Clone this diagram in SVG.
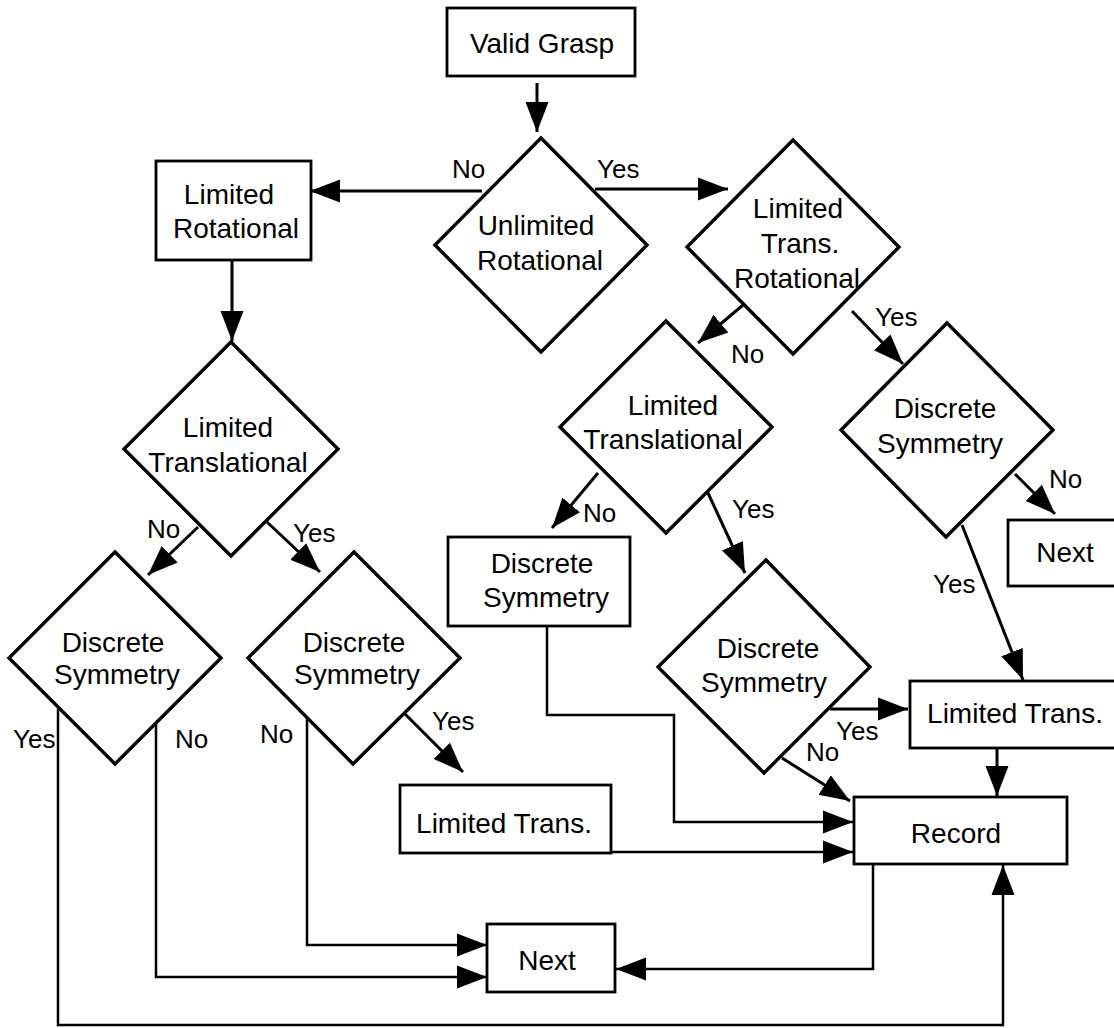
<svg xmlns="http://www.w3.org/2000/svg" width="1114" height="1028" viewBox="0 0 1114 1028">
<style>
  .box{fill:#fff;stroke:#000;stroke-width:2.8}
  .dia{fill:#fff;stroke:#000;stroke-width:3.4;stroke-linejoin:miter}
  .t{font-family:"Liberation Sans",Arial,sans-serif;font-size:28px;fill:#000;text-anchor:middle}
  .l{font-family:"Liberation Sans",Arial,sans-serif;font-size:26px;fill:#000}
  .c{fill:none;stroke:#000;stroke-width:3;marker-end:url(#ah)}
  .cl{fill:none;stroke:#000;stroke-width:2.5;marker-end:url(#ah)}
</style>
<defs>
  <marker id="ah" markerUnits="userSpaceOnUse" markerWidth="32" markerHeight="26" viewBox="0 -13 32 26" refX="30" refY="0" orient="auto">
    <path d="M0,-11.5 L30,0 L0,11.5 z" fill="#000"/>
  </marker>
</defs>
<rect width="1114" height="1028" fill="#fff"/>

<g id="connectors">
  <path class="c" d="M537,83 L537,132"/>
  <path class="c" d="M482,191 L310,191"/>
  <path class="c" d="M595,189 L728,189"/>
  <path class="c" d="M232,260 L232,341"/>
  <path class="c" d="M198,527 L148,575"/>
  <path class="c" d="M267,522 L320,572"/>
  <path class="cl" d="M58,709 L58,1025 L1003,1025 L1003,865"/>
  <path class="cl" d="M156,723 L156,977 L487,977"/>
  <path class="cl" d="M307,718 L307,945 L487,945"/>
  <path class="c" d="M405,714 L463,772"/>
  <path class="cl" d="M611,852 L853,852"/>
  <path class="cl" d="M547,626 L547,715 L674,715 L674,822 L853,822"/>
  <path class="c" d="M743,305 L698,343"/>
  <path class="c" d="M852,311 L903,364"/>
  <path class="c" d="M598,473 L552,528"/>
  <path class="c" d="M708,493 L745,573"/>
  <path class="c" d="M830,709 L908,709"/>
  <path class="c" d="M782,758 L850,801"/>
  <path class="c" d="M1015,474 L1055,514"/>
  <path class="c" d="M962,525 L1023,680"/>
  <path class="c" d="M997,748 L997,796"/>
  <path class="cl" d="M873,864 L873,969 L616,969"/>
</g>

<g id="labels">
  <text class="l" x="452" y="178">No</text>
  <text class="l" x="597" y="178">Yes</text>
  <text class="l" x="731" y="363">No</text>
  <text class="l" x="875" y="326">Yes</text>
  <text class="l" x="147" y="538">No</text>
  <text class="l" x="293" y="542">Yes</text>
  <text class="l" x="583" y="522">No</text>
  <text class="l" x="732" y="518">Yes</text>
  <text class="l" x="1049" y="488">No</text>
  <text class="l" x="933" y="593">Yes</text>
  <text class="l" x="13" y="748">Yes</text>
  <text class="l" x="175" y="748">No</text>
  <text class="l" x="260" y="743">No</text>
  <text class="l" x="432" y="730">Yes</text>
  <text class="l" x="836" y="740">Yes</text>
  <text class="l" x="806" y="761">No</text>
</g>

<g id="valid-grasp">
  <rect class="box" x="447" y="8" width="188" height="68"/>
  <text class="t" x="542" y="53">Valid Grasp</text>
</g>
<g id="unlimited-rotational">
  <polygon class="dia" points="541,138 647,245 541,352 435,245"/>
  <text class="t" x="536" y="235">Unlimited</text>
  <text class="t" x="540" y="270">Rotational</text>
</g>
<g id="limited-rotational">
  <rect class="box" x="156" y="161" width="155" height="99"/>
  <text class="t" x="229" y="204">Limited</text>
  <text class="t" x="236" y="238">Rotational</text>
</g>
<g id="limited-trans-rotational">
  <polygon class="dia" points="793,140 899,247 793,354 687,247"/>
  <text class="t" x="798" y="218">Limited</text>
  <text class="t" x="800" y="253">Trans.</text>
  <text class="t" x="797" y="288">Rotational</text>
</g>
<g id="limited-translational-left">
  <polygon class="dia" points="231,342 338,449 231,556 124,449"/>
  <text class="t" x="228" y="437">Limited</text>
  <text class="t" x="228" y="472">Translational</text>
</g>
<g id="limited-translational-right">
  <polygon class="dia" points="666,321 772,427 666,533 560,427"/>
  <text class="t" x="673" y="415">Limited</text>
  <text class="t" x="663" y="449">Translational</text>
</g>
<g id="discrete-symmetry-right">
  <polygon class="dia" points="947,323 1053,430 946,537 841,430"/>
  <text class="t" x="945" y="418">Discrete</text>
  <text class="t" x="940" y="453">Symmetry</text>
</g>
<g id="next-top">
  <rect class="box" x="1008" y="520" width="114" height="66"/>
  <text class="t" x="1065" y="562">Next</text>
</g>
<g id="discrete-symmetry-box">
  <rect class="box" x="448" y="537" width="182" height="89"/>
  <text class="t" x="542" y="573">Discrete</text>
  <text class="t" x="546" y="607">Symmetry</text>
</g>
<g id="discrete-symmetry-left">
  <polygon class="dia" points="115,552 221,658 115,764 9,658"/>
  <text class="t" x="113" y="652">Discrete</text>
  <text class="t" x="117" y="684">Symmetry</text>
</g>
<g id="discrete-symmetry-midleft">
  <polygon class="dia" points="354,552 460,658 353,764 248,658"/>
  <text class="t" x="354" y="652">Discrete</text>
  <text class="t" x="357" y="684">Symmetry</text>
</g>
<g id="discrete-symmetry-lowright">
  <polygon class="dia" points="766,560 870,667 764,773 658,667"/>
  <text class="t" x="768" y="658">Discrete</text>
  <text class="t" x="764" y="692">Symmetry</text>
</g>
<g id="limited-trans-right">
  <rect class="box" x="910" y="681" width="212" height="67"/>
  <text class="t" x="1015" y="723">Limited Trans.</text>
</g>
<g id="limited-trans-bottom">
  <rect class="box" x="400" y="785" width="211" height="68"/>
  <text class="t" x="504" y="833">Limited Trans.</text>
</g>
<g id="record">
  <rect class="box" x="854" y="797" width="213" height="67"/>
  <text class="t" x="956" y="843">Record</text>
</g>
<g id="next-bottom">
  <rect class="box" x="487" y="924" width="128" height="68"/>
  <text class="t" x="547" y="970">Next</text>
</g>
</svg>
